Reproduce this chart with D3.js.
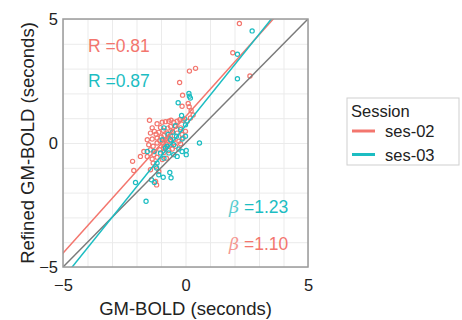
<!DOCTYPE html>
<html>
<head>
<meta charset="utf-8">
<script src="https://cdn.jsdelivr.net/npm/d3@7"></script>
<style>
  body { margin: 0; background: #fff; }
  svg { font-family: "Liberation Sans", Arial, sans-serif; }
</style>
</head>
<body>
<div id="chart"></div>
<script>
// data
const sessions = ["ses-02", "ses-03"];
const colors = ["#F3766E", "#1CBDC2"];
const tickValues = [-5, 0, 5];
const gridValues = [-5, -4, -3, -2, -1, 0, 1, 2, 3, 4, 5];
const rLabels = ["R =0.81", "R =0.87"];
const betaLabels = ["=1.10", "=1.23"];
const slopes = [1.10, 1.23];
const intercepts = [1.06, 0.69];

const ses02 = [
  [2.20, 4.82], [1.93, 3.64], [2.63, 2.70], [0.16, 2.90], [0.41, 3.01],
  [-0.24, 2.44], [-0.12, 1.93], [0.11, 1.59], [0.15, 1.46], [0.23, 1.30],
  [0.31, 1.13], [-0.14, 1.48], [0.20, 1.01], [0.07, 0.88], [-1.47, 0.92],
  [-1.36, 0.61], [-1.16, 0.78], [-0.95, 0.84], [-0.82, 0.86], [-0.68, 0.88],
  [-0.59, 0.92], [-0.48, 0.84], [-0.34, 0.88], [-0.23, 0.94], [-0.10, 0.92],
  [-0.61, 0.67], [-0.41, 0.67], [-0.20, 0.61], [0.00, 0.47], [-1.43, 0.40],
  [-1.27, 0.47], [-1.09, 0.43], [-0.91, 0.51], [-0.75, 0.40], [-0.54, 0.47],
  [-0.34, 0.40], [-0.14, 0.34], [-1.56, 0.13], [-1.36, 0.16], [-1.16, 0.20],
  [-0.99, 0.24], [-0.82, 0.13], [-0.68, 0.20], [-0.48, 0.13], [-0.27, 0.07],
  [-0.10, 0.20], [-1.50, -0.07], [-1.32, -0.13], [-1.16, 0.00], [-0.95, 0.00],
  [-0.86, -0.13], [-0.75, 0.03], [-0.61, -0.07], [-0.41, -0.13], [-0.20, -0.03],
  [-1.43, -0.27], [-1.27, -0.34], [-1.05, -0.27], [-0.88, -0.38], [-0.68, -0.30],
  [-1.56, -0.54], [-1.36, -0.65], [-1.16, -0.57], [-0.95, -0.67], [-0.78, -0.61],
  [-1.84, -0.54], [-2.16, -0.74], [-2.11, -1.11], [-1.32, -0.81], [-1.22, -0.94],
  [-1.22, -1.55], [-1.18, -1.69], [-1.43, -1.08], [-1.09, -1.15], [-1.70, -0.34],
  [-1.29, -0.47], [-0.54, -0.24], [-0.88, 0.30], [-1.02, 0.62], [-0.72, 0.60],
  [-1.20, 0.35], [-0.62, 0.28], [-0.90, -0.20], [-1.05, 0.10], [-0.78, -0.05]
];

const ses03 = [
  [2.72, 4.52], [2.12, 3.58], [2.12, 2.59], [0.57, 0.00], [0.03, -0.30],
  [0.03, -0.47], [0.14, 2.00], [0.16, 1.89], [0.20, 1.81], [-0.30, 1.62],
  [-0.16, 1.11], [-0.04, 0.97], [0.00, 0.74], [-0.41, 0.70], [-0.20, 0.54],
  [-0.52, 0.43], [-0.88, 0.61], [-0.71, 0.34], [-0.37, 0.27], [-0.14, 0.16],
  [0.00, 0.27], [-0.61, 0.13], [-0.48, -0.07], [-0.27, -0.24], [-0.82, -0.20],
  [-0.68, -0.40], [-0.48, -0.47], [-1.02, -0.40], [-1.29, -0.34], [-1.56, -0.34],
  [-1.16, -0.81], [-1.18, -1.01], [-1.09, -1.28], [-0.64, -1.19], [-0.59, -1.40],
  [-0.91, -1.38], [-1.39, -1.48], [-1.27, -1.59], [-2.04, -1.59], [-1.61, -2.35],
  [-0.95, 0.13], [-0.75, -0.13], [-0.34, -0.54], [-0.14, -0.34], [-0.88, -0.61]
];
const seriesPoints = [ses02, ses03];

const width = 462, height = 320;
const plot = { left: 63, top: 19, right: 308, bottom: 267 };

const svg = d3.select("#chart").append("svg")
  .attr("width", width)
  .attr("height", height);

const x = d3.scaleLinear().domain([-5, 5]).range([plot.left, plot.right]);
const y = d3.scaleLinear().domain([-5, 5]).range([plot.bottom, plot.top]);

// grid
svg.append("g")
  .attr("transform", "translate(0," + plot.bottom + ")")
  .call(d3.axisBottom(x).tickValues(gridValues).tickSize(-(plot.bottom - plot.top)).tickFormat(""))
  .call(g => g.select(".domain").remove())
  .call(g => g.selectAll("line").attr("stroke", "#ebebeb").attr("stroke-width", 1));
svg.append("g")
  .attr("transform", "translate(" + plot.left + ",0)")
  .call(d3.axisLeft(y).tickValues(gridValues).tickSize(-(plot.right - plot.left)).tickFormat(""))
  .call(g => g.select(".domain").remove())
  .call(g => g.selectAll("line").attr("stroke", "#ebebeb").attr("stroke-width", 1));

// tick labels
svg.append("g")
  .attr("transform", "translate(0," + plot.bottom + ")")
  .call(d3.axisBottom(x).tickValues(tickValues).tickSize(0).tickPadding(12))
  .call(g => g.select(".domain").remove())
  .call(g => g.selectAll("text").attr("font-size", 16.5).attr("fill", "#222").attr("font-family", null));
svg.append("g")
  .attr("transform", "translate(" + plot.left + ",0)")
  .call(d3.axisLeft(y).tickValues(tickValues).tickSize(0).tickPadding(5))
  .call(g => g.select(".domain").remove())
  .call(g => g.selectAll("text").attr("font-size", 16.5).attr("fill", "#222").attr("font-family", null));

const clip = svg.append("clipPath").attr("id", "clip")
  .append("rect")
  .attr("x", plot.left).attr("y", plot.top)
  .attr("width", plot.right - plot.left).attr("height", plot.bottom - plot.top);

// points
seriesPoints.forEach((pts, i) => {
  svg.append("g").selectAll("circle")
    .data(pts)
    .enter()
    .append("circle")
    .attr("cx", d => x(d[0]))
    .attr("cy", d => y(d[1]))
    .attr("r", 2.1)
    .attr("fill", "none")
    .attr("stroke", colors[i])
    .attr("stroke-width", 1.2);
});

// identity + fit lines
const lines = svg.append("g").attr("clip-path", "url(#clip)");
lines.append("line")
  .attr("x1", x(-5)).attr("y1", y(-5))
  .attr("x2", x(5)).attr("y2", y(5))
  .attr("stroke", "#7a7a7a").attr("stroke-width", 1.5);
slopes.forEach((m, i) => {
  lines.append("line")
    .attr("x1", x(-6)).attr("y1", y(m * -6 + intercepts[i]))
    .attr("x2", x(6)).attr("y2", y(m * 6 + intercepts[i]))
    .attr("stroke", colors[i]).attr("stroke-width", 1.5);
});

// frame
svg.append("rect")
  .attr("x", plot.left).attr("y", plot.top)
  .attr("width", plot.right - plot.left).attr("height", plot.bottom - plot.top)
  .attr("fill", "none").attr("stroke", "#9a9a9a").attr("stroke-width", 1.5);

// annotations
rLabels.forEach((t, i) => {
  svg.append("text")
    .attr("x", 88).attr("y", 52 + i * 35)
    .attr("font-size", 17.5).attr("fill", colors[i])
    .text(t);
});
[1, 0].forEach((i, k) => {
  const t = svg.append("text")
    .attr("x", 229).attr("y", 213 + k * 37)
    .attr("font-size", 17.5).attr("fill", colors[i]);
  t.append("tspan").attr("font-family", "DejaVu Serif").attr("font-style", "italic").attr("opacity", 0.75).text("β");
  t.append("tspan").text(" " + betaLabels[i]);
});

// axis titles
svg.append("text")
  .attr("x", (plot.left + plot.right) / 2).attr("y", 315)
  .attr("text-anchor", "middle").attr("font-size", 18.5).attr("fill", "#222")
  .text("GM-BOLD (seconds)");
svg.append("text")
  .attr("transform", "translate(34," + (plot.top + plot.bottom) / 2 + ") rotate(-90)")
  .attr("text-anchor", "middle").attr("font-size", 18.5).attr("fill", "#222")
  .text("Refined GM-BOLD (seconds)");

// legend
const legend = svg.append("g");
legend.append("rect")
  .attr("x", 347).attr("y", 98).attr("width", 112).attr("height", 67)
  .attr("fill", "#fff").attr("stroke", "#cfcfcf").attr("stroke-width", 1);
legend.append("text")
  .attr("x", 351).attr("y", 117).attr("font-size", 16.5).attr("fill", "#222")
  .text("Session");
sessions.forEach((s, i) => {
  legend.append("line")
    .attr("x1", 352).attr("x2", 375)
    .attr("y1", 131 + i * 23.5).attr("y2", 131 + i * 23.5)
    .attr("stroke", colors[i]).attr("stroke-width", 3);
  legend.append("text")
    .attr("x", 385).attr("y", 137 + i * 23.5).attr("font-size", 16.5).attr("fill", "#222")
    .text(s);
});
</script>
</body>
</html>
